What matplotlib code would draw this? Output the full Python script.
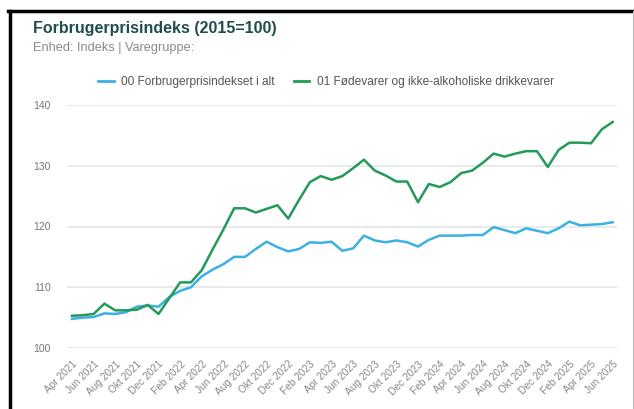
import matplotlib
matplotlib.use("Agg")
import matplotlib.pyplot as plt
from matplotlib.lines import Line2D

plt.rcParams['font.family'] = ['Liberation Sans', 'DejaVu Sans']

months = ["Jan", "Feb", "Mar", "Apr", "Maj", "Jun", "Jul", "Aug", "Sep", "Okt", "Nov", "Dec"]
periods = [f"{months[(3 + i) % 12]} {2021 + (3 + i) // 12}" for i in range(51)]

series_names = ["00 Forbrugerprisindekset i alt",
                "01 Fødevarer og ikke-alkoholiske drikkevarer"]

cpi_total = [104.8, 105.0, 105.1, 105.7, 105.6, 105.9, 106.8, 107.0, 106.8, 108.4,
             109.4, 110.0, 111.8, 112.9, 113.8, 115.0, 115.0, 116.3, 117.5, 116.6,
             115.9, 116.3, 117.4, 117.3, 117.5, 116.0, 116.4, 118.5, 117.7, 117.4,
             117.7, 117.4, 116.7, 117.8, 118.5, 118.5, 118.5, 118.6, 118.6, 119.9,
             119.4, 118.9, 119.7, 119.3, 118.9, 119.7, 120.8, 120.2, 120.3, 120.4,
             120.7]

food = [105.3, 105.4, 105.6, 107.3, 106.2, 106.2, 106.3, 107.1, 105.6, 108.2,
        110.8, 110.8, 112.8, 116.2, 119.5, 123.0, 123.0, 122.3, 122.9, 123.5,
        121.3, 124.4, 127.3, 128.3, 127.7, 128.3, 129.6, 131.0, 129.2, 128.4,
        127.4, 127.4, 124.0, 127.0, 126.5, 127.3, 128.8, 129.2, 130.5, 132.0,
        131.5, 132.0, 132.4, 132.4, 129.8, 132.6, 133.8, 133.8, 133.7, 136.0,
        137.2]

yticks = [100, 110, 120, 130, 140]

W, H = 634, 409
fig = plt.figure(figsize=(W / 100, H / 100), dpi=100)
fig.patch.set_facecolor("white")

ax = fig.add_axes([67 / W, 1 - 348 / H, (617 - 67) / W, (348 - 105) / H])
x = list(range(len(periods)))
blue = "#3bb0e3"
green = "#249a5a"
ax.plot(x, cpi_total, color=blue, lw=1.8, zorder=3, solid_joinstyle="round")
ax.plot(x, food, color=green, lw=1.8, zorder=3, solid_joinstyle="round")

ax.set_ylim(100, 140)
ax.set_xlim(-0.46, 50.4)
ax.set_yticks(yticks)
ax.set_yticklabels([str(v) for v in yticks])
ax.yaxis.grid(True, color="#e3e6e8", lw=1.2)
ax.set_axisbelow(True)
for s in ax.spines.values():
    s.set_visible(False)
ax.tick_params(axis="y", length=0, labelsize=7.5, labelcolor="#777777", pad=11.5)
ax.set_xticks(x[::2])
ax.set_xticklabels(periods[::2], rotation=45, ha="right", rotation_mode="anchor")
ax.tick_params(axis="x", length=0, labelsize=7.3, labelcolor="#888888", pad=8)

fig.text(33 / W, 1 - 28 / H, "Forbrugerprisindeks (2015=100)", fontsize=11.5,
         fontweight="bold", color="#1f4d4e", va="center", ha="left")
fig.text(33 / W, 1 - 48 / H, "Enhed: Indeks | Varegruppe:", fontsize=9.2,
         color="#8a8a8a", va="center", ha="left")

handles = [Line2D([], [], color=blue, lw=2), Line2D([], [], color=green, lw=2)]
fig.legend(handles, series_names, loc="center", bbox_to_anchor=(326 / W, 1 - 82 / H),
           ncol=2, frameon=False, fontsize=8.6, handlelength=1.3, handletextpad=0.6,
           columnspacing=1.6, labelcolor="#555555")

# black frame from the screenshot
fig.add_artist(Line2D([8 / W, 1], [1 - 10.5 / H, 1 - 10.5 / H], color="black", lw=2.5,
                      transform=fig.transFigure))
fig.add_artist(Line2D([9.5 / W, 9.5 / W], [0, 1 - 10.5 / H], color="black", lw=2.5,
                      transform=fig.transFigure))
fig.add_artist(Line2D([632.5 / W, 632.5 / W], [0, 1 - 10.5 / H], color="#bbbbbb", lw=0.8,
                      transform=fig.transFigure))

fig.savefig("out.png", dpi=100)
